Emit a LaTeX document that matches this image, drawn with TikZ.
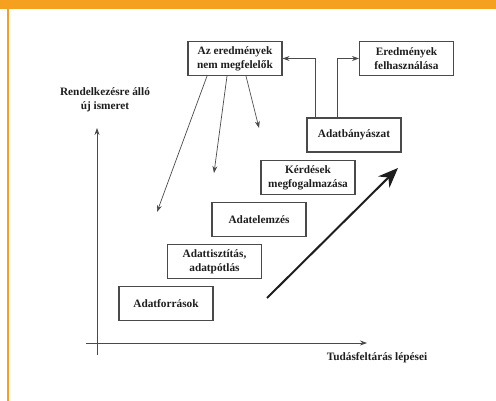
\documentclass[tikz,border=0pt]{standalone}
\usepackage{fontspec}
\setmainfont{Liberation Serif}
\usepackage{tikz}
\usetikzlibrary{arrows.meta}
\usepackage{xcolor}
\definecolor{framebar}{HTML}{F6A020}
\definecolor{stepfg}{HTML}{4A4A4A}
\definecolor{textfg}{HTML}{1E1E1E}

\tikzset{
  stepbox/.style={draw=stepfg, line width=1.1pt, fill=white, minimum width=94, minimum height=34,
    align=center, inner sep=1pt, text=textfg, font=\bfseries\fontsize{11.3}{14}\selectfont},
  axislabel/.style={align=center, text=textfg, font=\bfseries\fontsize{11.3}{14}\selectfont},
  link/.style={draw=stepfg, line width=0.7pt, -{Stealth[length=7pt, width=5pt]}}
}

\begin{document}
\begin{tikzpicture}[x=1pt, y=-1pt]
  \useasboundingbox (0,0) rectangle (496,401);

  % --- frame ---
  \fill[framebar] (0,0) rectangle (496,9);
  \fill[framebar] (7.3,9) rectangle (8.8,401);

  % --- steps of the process ---
  \node[stepbox] (src)    at (166,303.5) {Adatforrások};
  \node[stepbox] (clean)  at (214.5,261.5) {Adattisztítás,\\adatpótlás};
  \node[stepbox] (anal)   at (259,219.5) {Adatelemzés};
  \node[stepbox] (quest)  at (308,177.5) {Kérdések\\megfogalmazása};
  \node[stepbox] (mining) at (354,135) {Adatbányászat};
  \node[stepbox] (res)    at (235,58.5) {Az eredmények\\nem megfelelők};
  \node[stepbox] (use)    at (406.5,58.5) {Eredmények\\felhasználása};

  % --- results go back or forward ---
  \draw[link] ([xshift=-39]mining.north) |- (res.east);
  \draw[link] ([xshift=-17]mining.north) |- (use.west);

  % --- back to earlier steps ---
  \coordinate (back1) at (157,212);
  \coordinate (back2) at (214,173);
  \coordinate (back3) at (259,128);
  \draw[link] ([xshift=-28]res.south) -- (back1);
  \draw[link] ([xshift=-8]res.south) -- (back2);
  \draw[link] ([xshift=11]res.south) -- (back3);

  % --- trend arrow ---
  \coordinate (trendlo) at (267,298);
  \coordinate (trendhi) at (398,168);
  \draw[textfg, line width=2pt, -{Stealth[length=20pt, width=16pt]}] (trendlo) -- (trendhi);

  % --- axes ---
  \coordinate (ybot) at (97,355);
  \coordinate (ytop) at (97,128);
  \coordinate (xleft) at (86,343);
  \coordinate (xright) at (367,343);
  \draw[link] (ybot) -- (ytop);
  \draw[link] (xleft) -- (xright);
  \node[axislabel] (ylab) at (105,100) {Rendelkezésre álló\\új ismeret};
  \node[axislabel] (xlab) at (377,358) {Tudásfeltárás lépései};
\end{tikzpicture}
\end{document}
